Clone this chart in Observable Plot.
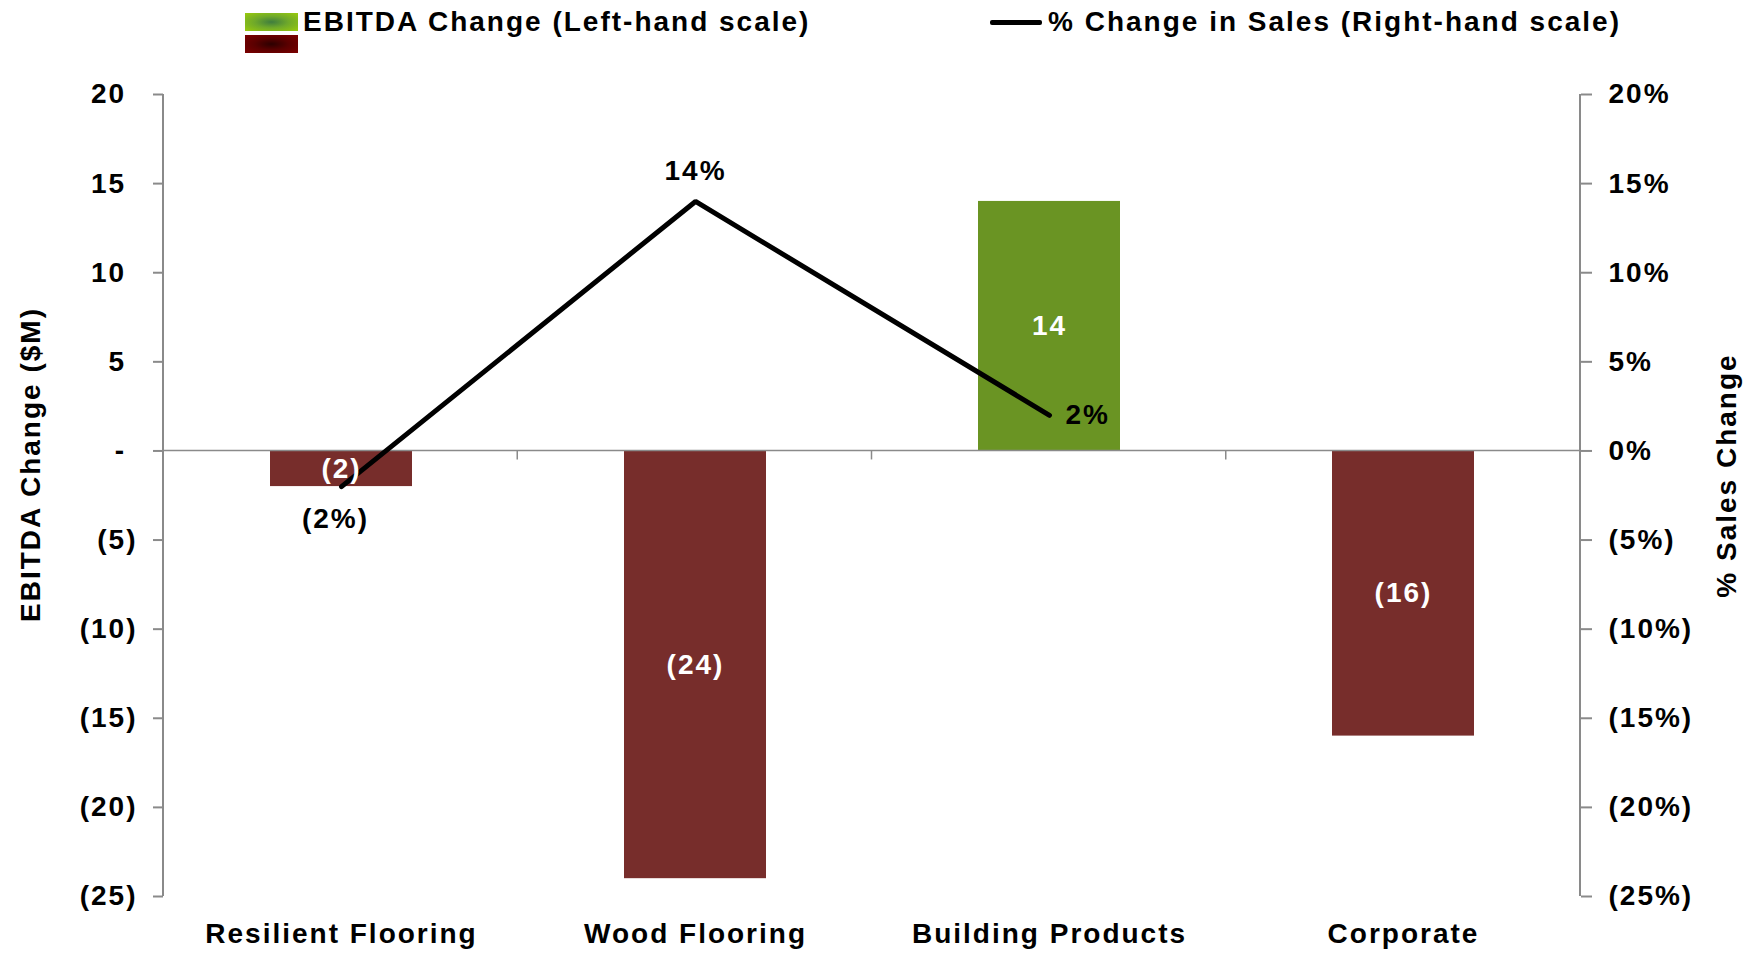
<!DOCTYPE html>
<html>
<head>
<meta charset="utf-8">
<script src="https://cdn.jsdelivr.net/npm/d3@7"></script>
<script src="https://cdn.jsdelivr.net/npm/@observablehq/plot@0.6"></script>
<style>
  html, body { margin: 0; padding: 0; background: #fff; }
  body { width: 1761px; height: 953px; overflow: hidden; font-family: "Liberation Sans", Arial, sans-serif; }
  #legend { position: relative; width: 1761px; height: 60px; font-weight: bold; font-size: 28px; letter-spacing: 2px; color: #000; }
  #legend .sw { position: absolute; left: 245px; width: 53px; height: 18px; }
  #legend .g { top: 13px; background: radial-gradient(ellipse at center, #3f7d3e 0%, #6fa92a 45%, #9acb0c 100%); }
  #legend .r { top: 35px; background: radial-gradient(ellipse at center, #2c0000 0%, #5a0000 45%, #7d0000 100%); }
  #legend .t1 { position: absolute; left: 303px; top: 22px; transform: translateY(-50%); white-space: nowrap; }
  #legend .ln { position: absolute; left: 990px; top: 20px; width: 52px; height: 5px; background: #000; border-radius: 2px; }
  #legend .t2 { position: absolute; left: 1048px; top: 22px; transform: translateY(-50%); white-space: nowrap; }
  #chart svg { display: block; }
</style>
</head>
<body>
<div id="legend">
  <div class="sw g"></div>
  <div class="sw r"></div>
  <div class="t1">EBITDA Change (Left-hand scale)</div>
  <div class="ln"></div>
  <div class="t2">% Change in Sales (Right-hand scale)</div>
</div>
<div id="chart"></div>
<script>
// ---- data ----
const categories = ["Resilient Flooring", "Wood Flooring", "Building Products", "Corporate"];
const ebitdaChange = [-2, -24, 14, -16];           // $M, left-hand scale
const salesCategories = ["Resilient Flooring", "Wood Flooring", "Building Products"];
const salesChangePct = [-2, 14, 2];                // %, right-hand scale
const leftTicks = [20, 15, 10, 5, 0, -5, -10, -15, -20, -25];
const rightTicks = [20, 15, 10, 5, 0, -5, -10, -15, -20, -25];

// ---- tables ----
const bars = categories.map((c, i) => ({cat: c, v: ebitdaChange[i]}));
const sales = salesCategories.map((c, i) => ({cat: c, p: salesChangePct[i]}));

const GREEN = "#6a9423";
const MAROON = "#772d2b";
const AXIS = "#8a8a8a";

const fmtM = d => d === 0 ? "-\u2004" : d < 0 ? `(${Math.abs(d)})` : `${d}\u2004`;
const fmtP = d => d === 0 ? "0%" : d < 0 ? `(${Math.abs(d)}%)` : `${d}%`;

// decorative axis lines and category separators
function decor(...args) {
  const dims = args.find(a => a && typeof a === "object" && "marginLeft" in a && "width" in a);
  const {width, height, marginLeft, marginRight, marginTop, marginBottom} = dims;
  const scales = args.find(a => a && typeof a === "object" && typeof a.y === "function");
  const x0 = marginLeft, x1 = width - marginRight;
  const yTop = marginTop, yBot = height - marginBottom;
  const y0 = scales.y(0);
  const g = d3.create("svg:g").attr("stroke", AXIS).attr("fill", "none");
  g.append("line").attr("x1", x0).attr("x2", x0).attr("y1", yTop).attr("y2", yBot).attr("stroke-width", 2);
  g.append("line").attr("x1", x1).attr("x2", x1).attr("y1", yTop).attr("y2", yBot).attr("stroke-width", 2);
  g.append("line").attr("x1", x0).attr("x2", x1).attr("y1", y0).attr("y2", y0).attr("stroke-width", 1.5);
  const n = categories.length;
  for (let i = 1; i < n; i++) {
    const xx = x0 + (x1 - x0) * i / n;
    g.append("line").attr("x1", xx).attr("x2", xx).attr("y1", y0).attr("y2", y0 + 9).attr("stroke-width", 1.5);
  }
  return g.node();
}

const font = {fontFamily: "'Liberation Sans', Arial, sans-serif", fontWeight: "bold"};

const chart = Plot.plot({
  width: 1761,
  height: 893,
  marginTop: 34,
  marginBottom: 57,
  marginLeft: 163,
  marginRight: 181,
  x: {domain: categories, paddingInner: 0.6, paddingOuter: 0.3},
  y: {domain: [-25, 20]},
  style: {fontFamily: font.fontFamily, fontWeight: "bold", fontSize: "28px", letterSpacing: "2px", background: "white", color: "black", overflow: "visible"},
  marks: [
    Plot.barY(bars, {x: "cat", y: "v", fill: d => d.v >= 0 ? GREEN : MAROON}),
    decor,
    Plot.axisY({anchor: "left", ticks: leftTicks, tickFormat: fmtM, tickSize: 10, tickPadding: 16, stroke: AXIS, strokeWidth: 2, fill: "black", fontSize: 28, label: null}),
    Plot.axisY({anchor: "right", ticks: rightTicks, tickFormat: fmtP, tickSize: 11, tickPadding: 17, stroke: AXIS, strokeWidth: 2, fill: "black", fontSize: 28, label: null}),
    Plot.axisX({anchor: "bottom", tickSize: 0, tickPadding: 27, fill: "black", fontSize: 28, label: null}),
    Plot.line(sales, {x: "cat", y: "p", stroke: "black", strokeWidth: 5, strokeLinecap: "round", strokeLinejoin: "miter"}),
    // bar value labels
    Plot.text(bars, {x: "cat", y: d => d.v / 2, text: d => fmtM(d.v).trim(), fill: "white", fontSize: 28}),
    // sales labels
    Plot.text(sales.filter(d => d.p === d3.max(salesChangePct)), {x: "cat", y: "p", text: d => fmtP(d.p), dy: -30, fill: "black", fontSize: 28}),
    Plot.text(sales.filter((d, i) => i === 0), {x: "cat", y: "p", text: d => fmtP(d.p), dy: 32, dx: -6, fill: "black", fontSize: 28}),
    Plot.text(sales.filter((d, i) => i === sales.length - 1), {x: "cat", y: "p", text: d => fmtP(d.p), dx: 16, textAnchor: "start", fill: "black", fontSize: 28}),
    // axis titles
    Plot.text(["EBITDA Change ($M)"], {text: d => d, frameAnchor: "left", textAnchor: "middle", rotate: -90, dx: -132, dy: -31, fill: "black", fontSize: 28}),
    Plot.text(["% Sales Change"], {text: d => d, frameAnchor: "right", textAnchor: "middle", rotate: -90, dx: 147, dy: -20, fill: "black", fontSize: 28})
  ]
});
document.getElementById("chart").appendChild(chart);
</script>
</body>
</html>
